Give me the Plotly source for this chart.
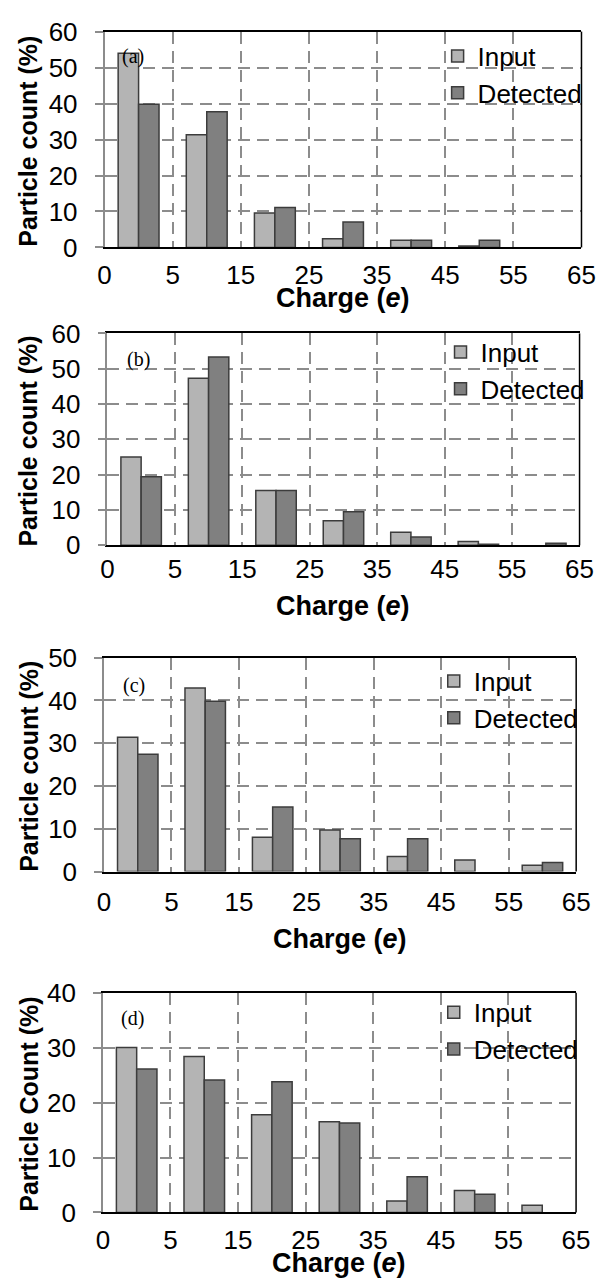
import plotly.graph_objects as go

# Charge bins (equal-width category slots) and boundary tick labels
tick_labels = ["0", "5", "15", "25", "35", "45", "55", "65"]
n_bins = len(tick_labels) - 1

# Particle count (%) per charge bin, panels (a)-(d); None = no bar in that bin
input_a = [54.0, 31.3, 9.6, 2.4, 2.0, 0.4, None]
detected_a = [39.8, 37.7, 11.1, 7.1, 2.0, 2.0, None]

input_b = [25.0, 47.3, 15.5, 7.0, 3.7, 1.1, None]
detected_b = [19.4, 53.3, 15.5, 9.5, 2.4, 0.3, 0.6]

input_c = [31.4, 42.9, 8.0, 9.7, 3.5, 2.7, 1.5]
detected_c = [27.4, 39.8, 15.1, 7.7, 7.7, None, 2.1]

input_d = [30.0, 28.4, 17.8, 16.5, 2.1, 4.0, 1.3]
detected_d = [26.1, 24.1, 23.8, 16.3, 6.5, 3.3, None]

panel_tags = ["(a)", "(b)", "(c)", "(d)"]
y_titles = ["Particle count (%)", "Particle count (%)", "Particle count (%)", "Particle Count (%)"]
y_max = [60, 60, 50, 40]

W, H = 609, 1288
SANS = "Arial, Liberation Sans, sans-serif"
SERIF = "Times New Roman, Liberation Serif, serif"
GRID = "#8c8c8c"
INPUT_FILL = "#b4b4b4"
DETECTED_FILL = "#808080"
EDGE = "#3c3c3c"

# plot-area boxes in pixels: (left, right, top, bottom)
boxes = [
    (101, 595, 17, 238),
    (104, 593, 326, 543),
    (100.5, 589.5, 658, 877),
    (99.3, 589.4, 1001, 1226),
]
# legend top-left corners in pixels
legend_pos = [(446, 18), (449, 321), (442, 658), (442, 997)]
# panel-tag centres in pixels
tag_pos = [(131, 43), (136, 353), (132, 687), (130, 1027)]
# x-title centres (y pixel) and tick-label offsets per panel
xtitle_y = [290, 605, 946, 1278]
xtick_standoff = [4, 0, 6, 4]


def px_x(v):
    return v / W


def px_y(v):
    return 1 - v / H


series = [
    (input_a, detected_a),
    (input_b, detected_b),
    (input_c, detected_c),
    (input_d, detected_d),
]

centers = [i + 0.5 for i in range(n_bins)]

fig = go.Figure()
layout = dict(
    width=W,
    height=H,
    margin=dict(l=0, r=0, t=0, b=0),
    paper_bgcolor="white",
    plot_bgcolor="white",
    barmode="group",
    bargap=0.4,
    bargroupgap=0.0,
    font=dict(family=SANS, color="black", size=26),
    showlegend=True,
)
annotations = []
shapes = []

for k, (inp, det) in enumerate(series):
    sfx = "" if k == 0 else str(k + 1)
    xa, ya = "x" + sfx, "y" + sfx
    leg = "legend" + sfx
    l, r, t, b = boxes[k]

    fig.add_trace(go.Bar(
        x=centers, y=inp, name="Input", xaxis=xa, yaxis=ya, legend=leg,
        legendgroup="in" + sfx,
        marker=dict(color=INPUT_FILL, line=dict(color=EDGE, width=1.5)),
        offsetgroup="in",
    ))
    fig.add_trace(go.Bar(
        x=centers, y=det, name="Detected", xaxis=xa, yaxis=ya, legend=leg,
        legendgroup="det" + sfx,
        marker=dict(color=DETECTED_FILL, line=dict(color=EDGE, width=1.5)),
        offsetgroup="det",
    ))

    layout["xaxis" + sfx] = dict(
        domain=[px_x(l), px_x(r)], anchor=ya, range=[0, n_bins],
        tickmode="array", tickvals=list(range(n_bins + 1)), ticktext=tick_labels,
        showgrid=True, gridcolor=GRID, gridwidth=1.5, griddash="12px,7px",
        showline=True, linecolor="black", linewidth=1.5, mirror=True,
        ticks="", zeroline=False, ticklabelstandoff=xtick_standoff[k],
        tickfont=dict(size=26, family=SANS),
    )
    layout["yaxis" + sfx] = dict(
        domain=[px_y(b), px_y(t)], anchor=xa, range=[0, y_max[k]], dtick=10,
        showgrid=True, gridcolor=GRID, gridwidth=1.5, griddash="12px,7px",
        showline=True, linecolor=GRID, linewidth=1.5,
        ticks="outside", ticklen=8, tickcolor=GRID, tickwidth=1.5,
        zeroline=False, ticklabelstandoff=12,
        tickfont=dict(size=26, family=SANS),
    )
    # black frame on the right side of the plot area
    shapes.append(dict(
        type="line", xref=xa + " domain", yref=ya + " domain",
        x0=1, x1=1, y0=0, y1=1, line=dict(color="black", width=1.5),
    ))

    lx, ly = legend_pos[k]
    layout[leg] = dict(
        x=px_x(lx), y=px_y(ly), xanchor="left", yanchor="top",
        bgcolor="rgba(0,0,0,0)", borderwidth=0, tracegroupgap=2,
        font=dict(size=26, family=SANS, color="black"),
        traceorder="normal",
    )

    tx, ty = tag_pos[k]
    annotations.append(dict(
        text=panel_tags[k], x=px_x(tx), y=px_y(ty), xref="paper", yref="paper",
        showarrow=False, font=dict(family=SERIF, size=20, color="black"),
        xanchor="center", yanchor="middle",
    ))
    annotations.append(dict(
        text="<b>Charge (<i>e</i>)</b>", x=px_x((l + r) / 2), y=px_y(xtitle_y[k]),
        xref="paper", yref="paper", showarrow=False,
        font=dict(family=SANS, size=27, color="black"),
        xanchor="center", yanchor="middle",
    ))
    annotations.append(dict(
        text="<b>" + y_titles[k] + "</b>", x=px_x(22), y=px_y((t + b) / 2 + 2),
        xref="paper", yref="paper", showarrow=False, textangle=-90,
        font=dict(family=SANS, size=25, color="black"),
        xanchor="center", yanchor="middle",
    ))

layout["annotations"] = annotations
layout["shapes"] = shapes
fig.update_layout(**layout)

fig.write_html("out.html")
